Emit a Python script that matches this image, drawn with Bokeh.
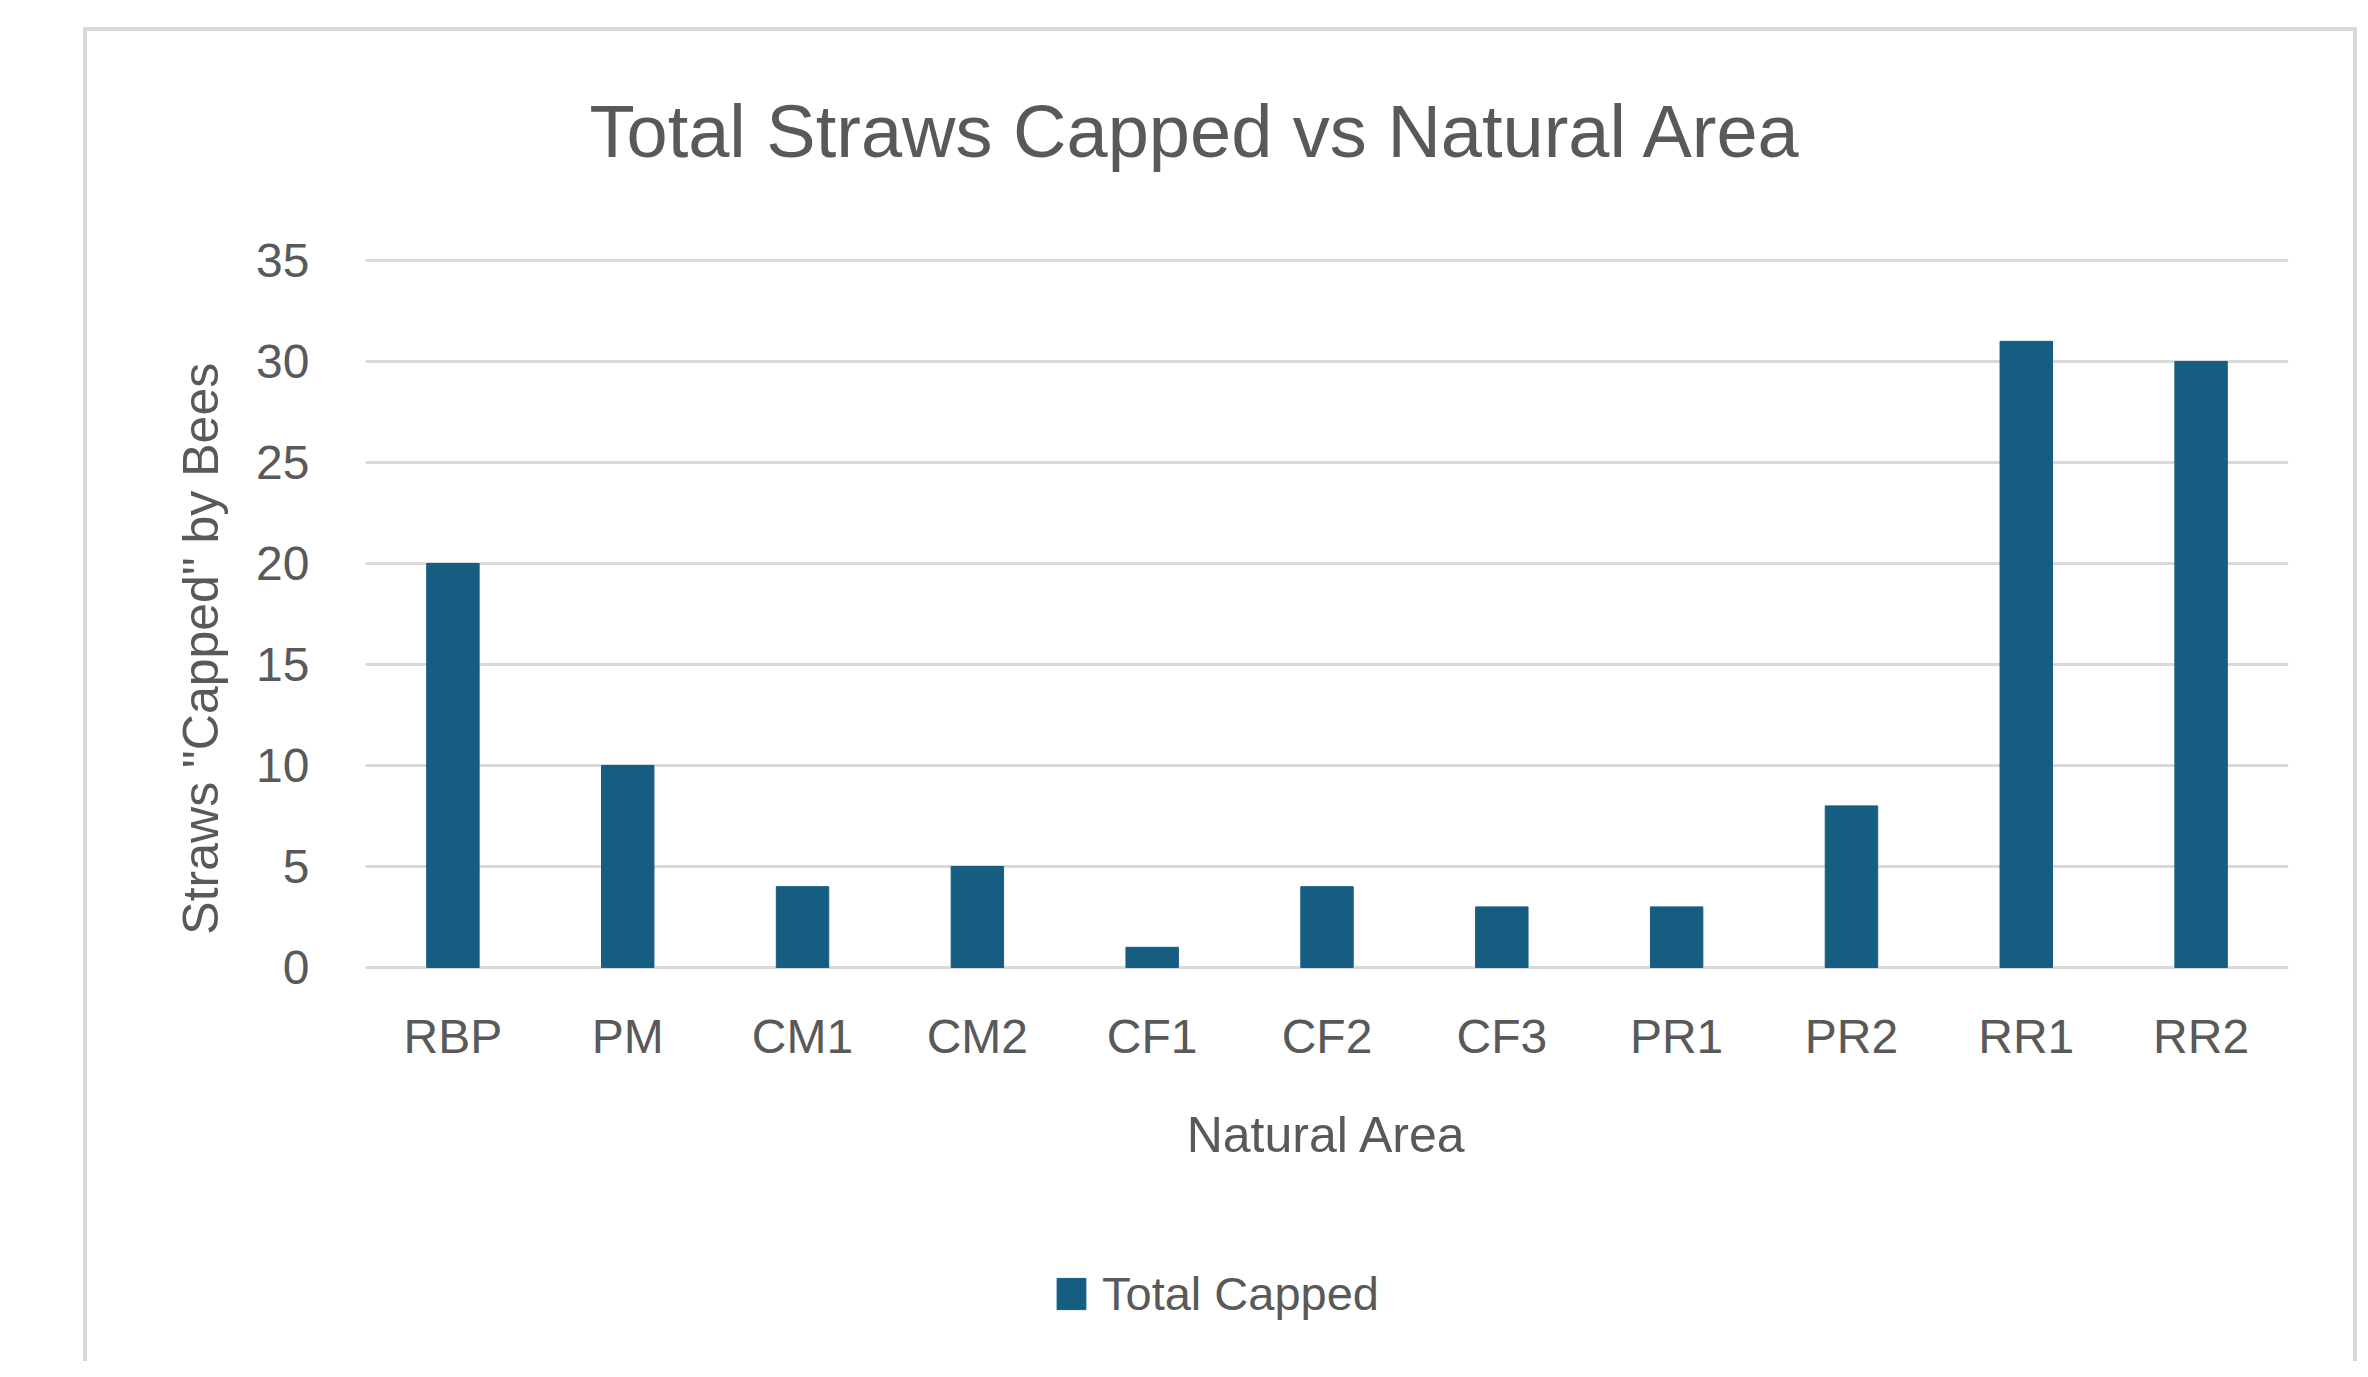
from bokeh.plotting import figure
from bokeh.layouts import column
from bokeh.models import ColumnDataSource, Legend, LegendItem
from bokeh.embed import file_html
from bokeh.resources import INLINE

categories = ["RBP", "PM", "CM1", "CM2", "CF1", "CF2", "CF3", "PR1", "PR2", "RR1", "RR2"]
total_capped = [20, 10, 4, 5, 1, 4, 3, 3, 8, 31, 30]
y_ticks = [0, 5, 10, 15, 20, 25, 30, 35]

FONT = "Liberation Sans"
TEXT = "#595959"
BAR = "#165E81"
GRID = "#D9D9D9"
W = 2266

src = ColumnDataSource(dict(cat=categories, val=total_capped))

# title strip (title sits under an empty frame)
top = figure(width=W, height=143, output_backend="svg", toolbar_location=None,
             x_axis_type=None, y_axis_type=None, min_border=0, title_location="below")
top.outline_line_color = None
top.title.text = "Total Straws Capped vs Natural Area"
top.title.align = "left"
top.title.vertical_align = "top"
top.title.offset = 224
top.title.standoff = 0
top.title.text_font = FONT
top.title.text_font_size = "74px"
top.title.text_font_style = "normal"
top.title.text_color = TEXT

# main chart
p = figure(x_range=categories, y_range=(-0.1, 35.1), width=W, height=1025,
           output_backend="svg", toolbar_location=None,
           min_border_left=278, min_border_right=65, min_border_top=84, min_border_bottom=230)
p.title.visible = False

r = p.vbar(x="cat", top="val", width=0.3, source=src, color=BAR)

p.outline_line_color = None
p.xgrid.grid_line_color = None
p.ygrid.grid_line_color = GRID
p.ygrid.grid_line_width = 3

for ax in (p.xaxis, p.yaxis):
    ax.axis_line_color = None
    ax.major_tick_line_color = None
    ax.minor_tick_line_color = None
    ax.major_label_text_font = FONT
    ax.major_label_text_font_size = "48px"
    ax.major_label_text_color = TEXT
    ax.axis_label_text_font = FONT
    ax.axis_label_text_font_style = "normal"
    ax.axis_label_text_color = TEXT

p.yaxis.ticker = y_ticks
p.yaxis.major_label_standoff = 50
p.yaxis.axis_label = 'Straws "Capped" by Bees' + "\u00a0" * 5
p.yaxis.axis_label_text_font_size = "50px"
p.yaxis.axis_label_standoff = 24

p.xaxis.major_label_standoff = 34
p.xaxis.axis_label = "Natural Area"
p.xaxis.axis_label_text_font_size = "50px"
p.xaxis.axis_label_standoff = 41

# legend strip below the chart (its renderer sits outside the visible range)
lg = figure(x_range=categories, y_range=(1000, 1001), width=W, height=162,
            output_backend="svg", toolbar_location=None,
            x_axis_type=None, y_axis_type=None, min_border=0)
lg.outline_line_color = None
lr = lg.vbar(x="cat", top="val", width=0.3, source=src, color=BAR)

legend = Legend(items=[LegendItem(label="Total Capped", renderers=[lr])],
                location=(688, 40), orientation="horizontal",
                border_line_color=None, background_fill_alpha=0,
                padding=0, margin=0, glyph_width=36, glyph_height=39,
                label_standoff=13, label_text_font=FONT, label_text_font_size="47px",
                label_text_color=TEXT)
lg.add_layout(legend)

layout = column(top, p, lg, spacing=0,
                styles={"margin-left": "83px", "margin-top": "27px",
                        "border-left": "4px solid #D9D9D9", "border-top": "4px solid #D9D9D9",
                        "border-right": "4px solid #D9D9D9"})

open("out.html", "w").write(file_html(layout, INLINE))
